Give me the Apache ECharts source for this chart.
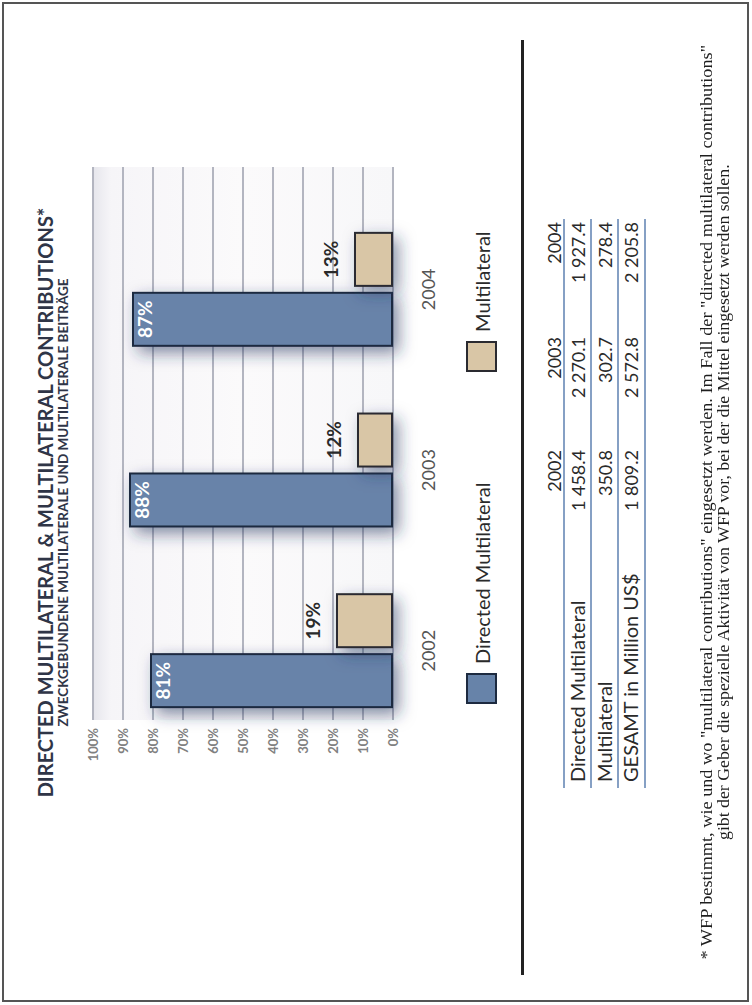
<!DOCTYPE html>
<html><head><meta charset="utf-8">
<script src="https://cdn.jsdelivr.net/npm/echarts@6/dist/echarts.min.js"></script>
<style>
html,body{margin:0;padding:0;background:#fff;width:752px;height:1005px;overflow:hidden;}
#frame{position:absolute;left:2px;top:2px;width:747px;height:1000px;border:2px solid #555;box-sizing:border-box;}
#page{position:absolute;left:0;top:0;width:1005px;height:752px;transform-origin:0 0;transform:translateY(1005px) rotate(-90deg);font-family:Lato,sans-serif;}
#chart{position:absolute;left:0;top:0;width:1005px;height:752px;}
#sep{position:absolute;left:30px;width:935px;top:521px;height:3px;background:#222;}
.tline{position:absolute;height:2px;background:#86a0c4;}
.cell{position:absolute;white-space:nowrap;color:#2a2a2a;line-height:24px;}
.foot{position:absolute;white-space:nowrap;font-family:"Liberation Serif",serif;font-size:17.5px;line-height:20px;color:#1e1e1e;transform-origin:50% 50%;}
</style></head>
<body>
<div id="frame"></div>
<div id="page">
  <div id="chart"></div>
  <div id="sep"></div>
  <div id="table"></div>
  <div id="foot"></div>
</div>
<script>
// ---- data ----
const years = ['2002', '2003', '2004'];
const directedPct = [81, 88, 87];
const multiPct = [19, 12, 13];
const tableRowLabels = ['Directed Multilateral', 'Multilateral', 'GESAMT in Million US$'];
const directedAmt = ['1 458.4', '2 270.1', '1 927.4'];
const multiAmt = ['350.8', '302.7', '278.4'];
const totalAmt = ['1 809.2', '2 572.8', '2 205.8'];
const titleText = 'DIRECTED MULTILATERAL & MULTILATERAL CONTRIBUTIONS*';
const subTitleText = 'ZWECKGEBUNDENE MULTILATERALE UND MULTILATERALE BEITRÄGE';
const footLines = [
  '* WFP bestimmt, wie und wo "multilateral contributions" eingesetzt werden. Im Fall der "directed multilateral contributions"',
  'gibt der Geber die spezielle Aktivität von WFP vor, bei der die Mittel eingesetzt werden sollen.'
];

// ---- chart ----
const chart = echarts.init(document.getElementById('chart'), null, {renderer: 'svg', width: 1005, height: 752});
const blue = '#6783a9', tan = '#d9c6a6';
chart.setOption({
  animation: false,
  title: {
    text: titleText, subtext: subTitleText, left: 'center', top: 30, itemGap: 1,
    textStyle: {fontFamily: 'Lato', fontWeight: 'bold', fontSize: 20, color: '#2f3547'},
    subtextStyle: {fontFamily: 'Lato', fontWeight: 'bold', fontSize: 13.5, color: '#2f3547'}
  },
  legend: [
    {data: ['Directed Multilateral'], left: 296, top: 461, itemWidth: 29, itemHeight: 29, icon: 'rect',
     textStyle: {fontFamily: 'Lato', fontSize: 20, color: '#2a2a2a', padding: [0, 0, 0, 5]}},
    {data: ['Multilateral'], left: 628, top: 461, itemWidth: 29, itemHeight: 29, icon: 'rect',
     textStyle: {fontFamily: 'Lato', fontSize: 20, color: '#2a2a2a', padding: [0, 0, 0, 5]}}
  ],
  grid: [
    {left: 264, right: 199, top: 93, height: 300},
    {left: 285, right: 167, top: 93, height: 300, show: true, borderWidth: 0,
     backgroundColor: {type: 'linear', x: 0, y: 0, x2: 0, y2: 1, colorStops: [
       {offset: 0, color: '#e6e6ec'}, {offset: 0.06, color: '#f6f5f8'}, {offset: 0.5, color: '#fbfafb'}, {offset: 1, color: '#f7f7f9'}]}}
  ],
  xAxis: [
    {type: 'category', data: years, gridIndex: 0, axisLine: {show: false}, axisTick: {show: false},
     axisLabel: {fontFamily: 'Lato', fontSize: 18, color: '#555', margin: 26}},
    {type: 'value', gridIndex: 1, show: false, min: 0, max: 1}
  ],
  yAxis: [
    {type: 'value', gridIndex: 0, min: 0, max: 100, show: false},
    {type: 'value', gridIndex: 1, min: 0, max: 100, interval: 10,
     axisLine: {show: false}, axisTick: {show: false},
     splitLine: {lineStyle: {color: '#b3b5c0', width: 2}},
     axisLabel: {formatter: '{value}%', fontFamily: 'Lato', fontWeight: 'bold', fontSize: 13, color: '#808080', margin: 8}}
  ],
  series: [
    {name: 'Directed Multilateral', type: 'bar', xAxisIndex: 0, yAxisIndex: 0, data: directedPct,
     barWidth: 55, barGap: '9%', z: 5,
     itemStyle: {color: blue, borderColor: '#1d2a40', borderWidth: 2,
       shadowBlur: 16, shadowColor: 'rgba(35,45,90,0.55)', shadowOffsetX: -6, shadowOffsetY: 6},
     label: {show: true, position: 'insideTop', distance: 3, formatter: '{c}%', color: '#fff',
       fontFamily: 'Lato', fontWeight: 'bold', fontSize: 19}},
    {name: 'Multilateral', type: 'bar', xAxisIndex: 0, yAxisIndex: 0, data: multiPct,
     barWidth: 55, barGap: '9%', z: 5,
     itemStyle: {color: tan, borderColor: '#2a2a30', borderWidth: 2,
       shadowBlur: 16, shadowColor: 'rgba(35,45,90,0.5)', shadowOffsetX: -6, shadowOffsetY: 6},
     label: {show: true, position: 'top', distance: 14, formatter: '{c}%', color: '#2a2a2a',
       fontFamily: 'Lato', fontWeight: 'bold', fontSize: 19}}
  ]
});

// ---- table ----
const table = document.getElementById('table');
const tLeft = 217, tRight = 786;
[564, 591, 618, 645].forEach(v => {
  const d = document.createElement('div'); d.className = 'tline';
  d.style.left = tLeft + 'px'; d.style.width = (tRight - tLeft) + 'px'; d.style.top = (v - 1) + 'px';
  table.appendChild(d);
});
const colRight = [555, 668, 783];
const rowBase = [585, 612, 638];
function cell(text, v, opts) {
  const d = document.createElement('div'); d.className = 'cell'; d.textContent = text;
  d.style.fontSize = opts.size + 'px';
  d.style.top = (v - (opts.size === 20 ? 20 : 19)) + 'px';
  if (opts.right !== undefined) { d.style.right = (1005 - opts.right) + 'px'; d.style.textAlign = 'right'; }
  else d.style.left = opts.left + 'px';
  table.appendChild(d);
}
years.forEach((y, i) => cell(y, 561, {size: 18, right: colRight[i]}));
const amounts = [directedAmt, multiAmt, totalAmt];
tableRowLabels.forEach((lab, r) => {
  cell(lab, rowBase[r], {size: 20, left: 223});
  amounts[r].forEach((a, i) => cell(a, rowBase[r], {size: 18, right: colRight[i]}));
});

// ---- footnote ----
const foot = document.getElementById('foot');
const footBase = [711, 728], footWidth = [915, 676];
footLines.forEach((t, i) => {
  const d = document.createElement('div'); d.className = 'foot'; d.textContent = t;
  foot.appendChild(d);
  const w = d.offsetWidth;
  d.style.left = (502.5 - w / 2) + 'px';
  d.style.top = (footBase[i] - 15) + 'px';
  d.style.transform = 'scaleX(' + (footWidth[i] / w) + ')';
});
</script>
</body></html>
